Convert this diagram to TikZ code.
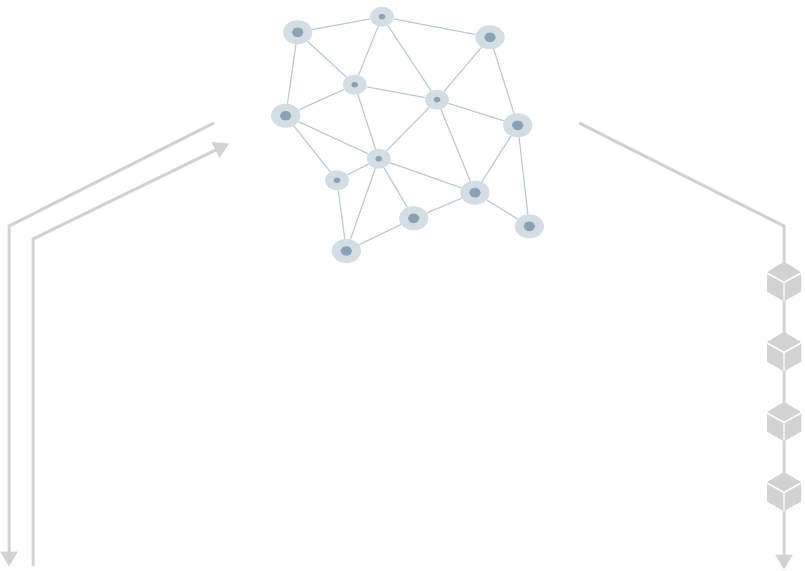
\documentclass[tikz,border=0pt]{standalone}
\usetikzlibrary{shapes.geometric,arrows.meta}
\definecolor{halo}{HTML}{D2DDE4}
\definecolor{core}{HTML}{8AA2B5}
\definecolor{edgeblue}{HTML}{BCCAD6}
\definecolor{routegrey}{HTML}{D2D2D2}
\tikzset{
  bighalo/.style={ellipse,fill=halo,draw=none,inner sep=0pt,minimum width=29.5pt,minimum height=24pt},
  bigcore/.style={ellipse,fill=core,draw=none,inner sep=0pt,minimum width=11.5pt,minimum height=9.5pt},
  smallhalo/.style={ellipse,fill=halo,draw=none,inner sep=0pt,minimum width=24pt,minimum height=20pt},
  smallcore/.style={ellipse,fill=core,draw=none,inner sep=0pt,minimum width=6.8pt,minimum height=5.6pt},
  meshedge/.style={draw=edgeblue,line width=1.2pt},
  route/.style={draw=routegrey,line width=3pt,line join=miter},
  routearrow/.style={route,-{Triangle[length=15pt,width=17pt,fill=routegrey]}},
  cubeface/.style={fill=routegrey,draw=none}
}
\begin{document}
\begin{tikzpicture}[x=1pt,y=-1pt]
\useasboundingbox (0,0) rectangle (805,570);
% routes
\coordinate (l1a) at (214,123); \coordinate (l1b) at (9,226); \coordinate (l1c) at (9,566.5);
\coordinate (l2a) at (33,566); \coordinate (l2b) at (33,239); \coordinate (l2c) at (229,143.5);
\coordinate (r1a) at (579,123); \coordinate (r1b) at (784,226); \coordinate (r1c) at (784,569.5);
\draw[routearrow] (l1a) -- (l1b) -- (l1c);
\draw[routearrow] (l2a) -- (l2b) -- (l2c);
\draw[routearrow] (r1a) -- (r1b) -- (r1c);
% cubes
\foreach \cy in {282,352,422,492}{
  \begin{scope}[shift={(784,\cy)}]
    \fill[white] (-17,-10) -- (0,-20) -- (17,-10) -- (17,9.5) -- (0,19) -- (-17,9.5) -- cycle;
    \fill[cubeface] (0,-20) -- (17,-10) -- (0,-0.5) -- (-17,-10) -- cycle;
    \fill[cubeface] (-17,-8) -- (-0.6,1.2) -- (-0.6,19) -- (-17,9.5) -- cycle;
    \fill[cubeface] (17,-8) -- (0.6,1.2) -- (0.6,19) -- (17,9.5) -- cycle;
  \end{scope}
}
% mesh nodes
\foreach \n/\px/\py in {a/297.7/32.3,c/490/37.3,f/285.7/115.7,g/517.7/125.3,j/475/192.7,k/413.7/218.3,l/529.3/226.3,m/346.3/251}{
  \node[bighalo] (\n) at (\px,\py) {};
  \node[bigcore] (\n-core) at (\px,\py) {};
}
\foreach \n/\px/\py in {b/382/16.7,d/354.7/84.7,e/437/99.7,h/378.7/158.7,i/337/180.3}{
  \node[smallhalo] (\n) at (\px,\py) {};
  \node[smallcore] (\n-core) at (\px,\py) {};
}
% mesh edges
\foreach \s/\t in {a/b,b/c,a/f,a/d,b/d,b/e,c/e,c/g,d/e,d/f,d/h,e/h,e/g,e/j,f/h,f/i,g/j,g/l,h/i,h/m,h/k,h/j,i/m,j/k,j/l,k/m}{
  \draw[meshedge] (\s) -- (\t);
}
\end{tikzpicture}
\end{document}
